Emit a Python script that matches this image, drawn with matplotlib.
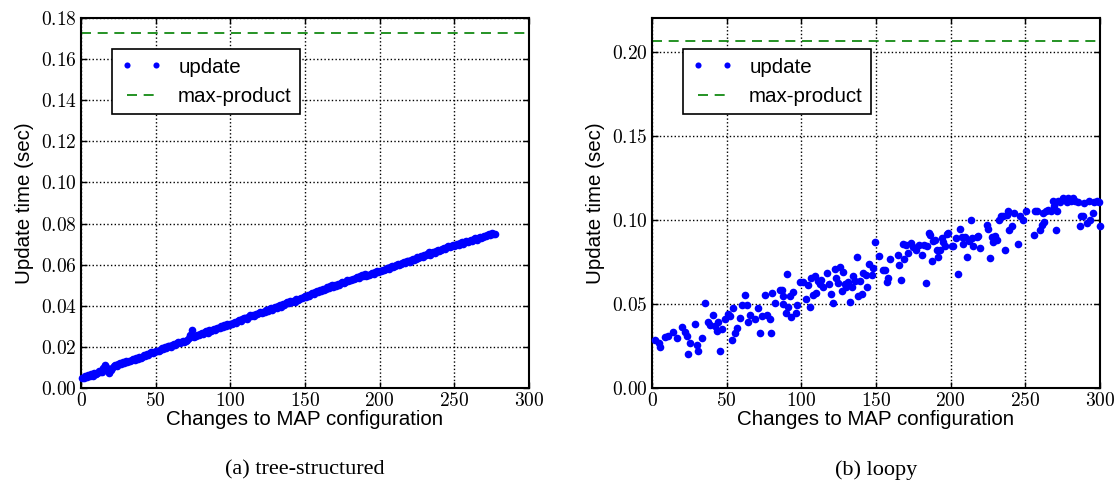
import numpy as np
import matplotlib
matplotlib.use("Agg")
import matplotlib.pyplot as plt
from matplotlib.ticker import FormatStrFormatter, MultipleLocator

# === Data ===
# (a) tree-structured: update time (ms) for changes 1..277
tree_update_ms = [
    5.1, 4.7, 5.6, 5.3, 6.2, 5.8, 6.6, 6.0, 7.1, 6.7,
    7.4, 8.3, 7.6, 8.0, 9.5, 11.2, 10.1, 8.6, 7.4, 9.0,
    9.9, 10.6, 11.3, 10.8, 11.7, 12.1, 11.5, 12.6, 12.2, 12.9,
    12.7, 13.3, 13.0, 13.8, 14.1, 13.6, 14.5, 14.2, 15.0, 14.7,
    15.3, 15.9, 15.5, 16.4, 16.1, 16.9, 17.3, 16.8, 17.6, 17.9,
    18.2, 17.8, 18.6, 19.4, 19.0, 19.8, 19.3, 20.2, 20.6, 20.1,
    20.9, 21.4, 20.8, 21.7, 22.3, 21.9, 22.6, 23.1, 22.4, 23.0,
    23.5, 24.2, 25.8, 28.2, 25.1, 24.6, 25.4, 26.0, 25.7, 26.3,
    26.8, 26.2, 27.1, 27.6, 27.0, 28.1, 27.7, 28.4, 28.9, 28.3,
    29.0, 29.4, 29.1, 30.0, 29.6, 30.5, 30.2, 31.0, 30.7, 31.3,
    31.0, 31.6, 32.2, 31.8, 32.5, 33.1, 32.7, 33.4, 33.9, 34.2,
    33.8, 34.5, 35.3, 34.9, 35.6, 35.1, 36.2, 35.8, 36.5, 37.0,
    36.4, 37.2, 36.9, 37.8, 37.4, 38.3, 38.9, 38.1, 39.0, 39.4,
    39.1, 39.8, 40.4, 39.6, 40.9, 40.5, 41.2, 41.8, 41.3, 42.1,
    41.8, 42.5, 42.0, 43.1, 42.7, 43.4, 44.0, 43.6, 44.3, 44.8,
    44.5, 45.2, 44.8, 45.6, 46.3, 45.9, 46.8, 47.3, 46.5, 47.5,
    47.0, 48.1, 47.6, 48.4, 49.0, 48.6, 49.5, 50.1, 49.2, 50.3,
    49.6, 50.4, 50.0, 50.9, 51.5, 51.1, 51.8, 52.4, 51.9, 52.6,
    52.3, 53.1, 52.8, 53.6, 54.2, 53.7, 54.5, 55.0, 54.4, 55.3,
    54.6, 55.2, 54.9, 55.7, 56.1, 55.6, 56.4, 56.9, 56.3, 57.0,
    57.0, 57.6, 57.2, 58.0, 58.5, 58.1, 58.8, 59.3, 58.9, 59.5,
    59.9, 60.4, 59.6, 60.1, 60.9, 61.3, 60.8, 61.6, 62.0, 61.5,
    62.1, 62.6, 62.2, 63.0, 63.5, 63.1, 63.9, 64.3, 63.6, 64.5,
    64.7, 65.3, 66.0, 64.6, 65.8, 66.4, 65.9, 66.8, 67.2, 66.6,
    67.1, 67.7, 68.2, 67.5, 68.6, 69.1, 68.4, 69.3, 69.8, 69.2,
    69.6, 70.1, 69.5, 70.4, 70.9, 70.2, 70.8, 71.3, 71.0, 71.5,
    71.9, 71.4, 72.3, 72.8, 72.1, 72.9, 73.4, 73.0, 73.7, 74.1,
    73.8, 74.4, 74.9, 74.5, 75.2, 74.8, 75.0,
]
tree_changes = np.arange(1, len(tree_update_ms) + 1)
tree_max_product = 0.1725

# (b) loopy: (changes, update time in sec) pairs
loopy_changes = [
    2, 4.5, 5.4, 8.7, 10.9, 14.3, 16.5, 19.9, 22, 23.2, 24.3, 25.4, 28.8, 29.9,
    30.5, 33.2, 35.5, 37.7, 38.8, 40.6, 42.1, 43.3, 44.4, 45.5, 46.6, 48.9,
    51.1, 52.2, 53.8, 54.5, 55.6, 56.7, 58.9, 60, 62.3, 63.4, 64.5, 65.6, 69,
    70.7, 72.3, 73.4, 75.6, 76.7, 79, 79.6, 80.4, 82.2, 85.5,
    86.8, 87.5, 87.9, 89.7, 90.1, 91.2, 92.3, 93.4, 94.5, 96.3, 97.2, 99,
    101.2, 103, 104.6, 105.7, 106.8, 107.9, 109, 110.1, 111.3, 112.4, 113.5,
    114.6, 116.9, 118.6, 120.2, 121.3, 122.4, 123.5, 124.7, 125.8, 126.9,
    127.6, 129.1, 130.2, 131.3, 132.9, 133.6, 134.7, 135.8, 137.3, 138,
    139.1, 140.3, 141.4, 143.2, 144.1, 145.4, 147, 148.1, 149.2, 152.1,
    154.8, 155.9, 157.5, 158.2, 159.3, 164.5, 165.6, 166.5, 167.8, 168.7,
    170, 171.2, 173.2, 174.5, 176.7, 179, 180.6, 182.1, 183.5, 184.4, 185.5,
    186.2, 187.3, 188.4, 189.5, 190.6, 191.7, 192.8, 193.9, 195.1, 196.2,
    197.3, 198.4, 200.7, 201.8, 203.5, 205.1, 206.2, 207.3, 208.4, 209.6,
    211.1, 212.4, 213.3, 214, 215.2, 217.4, 218.5, 219.6, 224.5, 225.2,
    226.3, 227.5, 228.6, 229.7, 230.8, 232.6, 233.5, 234.8, 236.4, 237.5,
    238.6, 239.3, 240.9, 242.5, 245.4, 246.5, 248.3, 250.5, 255.5, 256.6,
    258.1, 259.5, 261, 261.7, 262.6, 264, 265.5, 267.1, 268.4, 269.3,
    270.6, 271.5, 272.2, 273.3, 275.1, 276.7, 277.8, 278.9, 280.5, 281.8,
    283.4, 285, 286.3, 287.2, 288.6, 289, 291.3, 292.4, 293.5, 295.3,
    295.8, 298, 299, 300,
]
loopy_update = [
    0.0285, 0.0270, 0.0246, 0.0305, 0.0310, 0.0335, 0.0295, 0.0360, 0.0335,
    0.0310, 0.0200, 0.0265, 0.0380, 0.0253, 0.0218, 0.0295, 0.0504, 0.0395,
    0.0375, 0.0435, 0.0370, 0.0340, 0.0395, 0.0220, 0.0350, 0.0410, 0.0440,
    0.0430, 0.0285, 0.0474, 0.0325, 0.0355, 0.0415, 0.0494, 0.0553, 0.0494,
    0.0395, 0.0435, 0.0410, 0.0474, 0.0329, 0.0430, 0.0553, 0.0434, 0.0408,
    0.0329, 0.0567, 0.0504, 0.0580,
    0.0580, 0.0500, 0.0545, 0.0445, 0.0675, 0.0480, 0.0545, 0.0425, 0.0570,
    0.0446, 0.0491, 0.0630, 0.0630, 0.0531, 0.0610, 0.0481, 0.0653, 0.0555,
    0.0663, 0.0565, 0.0634, 0.0618, 0.0644, 0.0598, 0.0683, 0.0618, 0.0561,
    0.0505, 0.0709, 0.0653, 0.0624, 0.0717, 0.0578, 0.0689, 0.0618, 0.0598,
    0.0630, 0.0509, 0.0598, 0.0663, 0.0638, 0.0777, 0.0545, 0.0638, 0.0559,
    0.0683, 0.0674, 0.0598, 0.0737, 0.0674, 0.0713, 0.0866, 0.0783, 0.0704,
    0.0704, 0.0630, 0.0657, 0.0769, 0.0793, 0.0733, 0.0644, 0.0856, 0.0769,
    0.0848, 0.0803, 0.0862, 0.0836, 0.0822, 0.0848, 0.0793, 0.0848, 0.0624,
    0.0842, 0.0919,
    0.0910, 0.0753, 0.0872, 0.0882, 0.0823, 0.0780, 0.0823, 0.0892, 0.0866,
    0.0843, 0.0918, 0.0922, 0.0843, 0.0843, 0.0892, 0.0680, 0.0946, 0.0896,
    0.0855, 0.0896, 0.0781, 0.0872, 0.1000, 0.0892, 0.0847, 0.0896, 0.0904,
    0.0831, 0.0970, 0.0945, 0.0773, 0.0896, 0.0866, 0.0904, 0.0882, 0.1000,
    0.1020, 0.1024, 0.0823, 0.1030, 0.1055, 0.0941, 0.0962, 0.1038, 0.0857,
    0.1020, 0.1000, 0.1050, 0.0912, 0.1050, 0.1055, 0.0941, 0.0971, 0.1038,
    0.0985, 0.1050, 0.1059, 0.1055, 0.1111, 0.1084, 0.0939, 0.1050, 0.1111,
    0.1104, 0.1130, 0.1120, 0.1104, 0.1130, 0.1111, 0.1130, 0.1111, 0.1104,
    0.0965, 0.1020, 0.1024, 0.1102, 0.0981, 0.1111, 0.1000, 0.1038, 0.1104,
    0.1111, 0.1104, 0.0962,
]
loopy_max_product = 0.2065

panels = [
    dict(x=tree_changes, y=np.array(tree_update_ms) / 1000.0, mp=tree_max_product,
         ylim=0.18, ystep=0.02, caption="(a) tree-structured"),
    dict(x=np.array(loopy_changes), y=np.array(loopy_update), mp=loopy_max_product,
         ylim=0.22, ystep=0.05, caption="(b) loopy"),
]

# === Figure ===
plt.rcParams['mathtext.fontset'] = 'cm'
plt.rcParams['font.family'] = ['Liberation Sans', 'DejaVu Sans']

fig = plt.figure(figsize=(11.15, 4.83), dpi=100)
lefts = [81 / 1115, 652 / 1115]
for left, p in zip(lefts, panels):
    ax = fig.add_axes([left, 95 / 483, 448 / 1115, 370 / 483])
    ax.plot(p['x'], p['y'], 'o', color='blue', markersize=5.5, markeredgewidth=0,
            label='update', clip_on=False, zorder=3)
    ax.axhline(p['mp'], color='green', linestyle='--', dashes=(6, 4), linewidth=1.2,
               label='max-product')
    ax.set_xlim(0, 300)
    ax.set_ylim(0, p['ylim'])
    ax.xaxis.set_major_locator(MultipleLocator(50))
    ax.yaxis.set_major_locator(MultipleLocator(p['ystep']))
    ax.xaxis.set_major_formatter(FormatStrFormatter('$%d$'))
    ax.yaxis.set_major_formatter(FormatStrFormatter('$%.2f$'))
    ax.tick_params(direction='in', length=4, width=1, labelsize=14,
                   top=True, right=True, pad=3)
    ax.grid(True, color='black', linestyle=':', linewidth=1)
    for s in ax.spines.values():
        s.set_linewidth(1.5)
    ax.set_xlabel('Changes to MAP configuration', fontsize=14.8, labelpad=0)
    ax.set_ylabel('Update time (sec)', fontsize=14.8, labelpad=5)
    leg = ax.legend(loc='upper left', bbox_to_anchor=(0.07, 0.915), numpoints=2,
                    fontsize=14.8, fancybox=False, framealpha=1, edgecolor='black',
                    borderaxespad=0, handlelength=2.0, markerscale=0.8)
    leg.get_frame().set_linewidth(1.2)
    fig.text(left + 224 / 1115, 1 - 470 / 483, p['caption'], ha='center', va='center',
             fontsize=16, family='Liberation Serif')

fig.savefig('out.png', dpi=100)
